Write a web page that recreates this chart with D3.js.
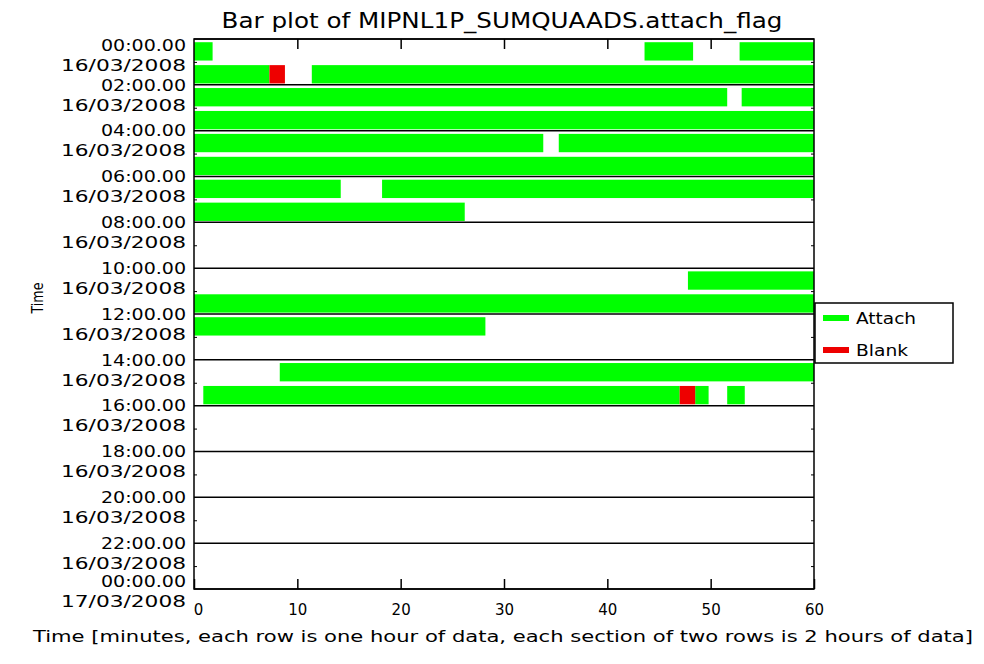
<!DOCTYPE html>
<html>
<head>
<meta charset="utf-8">
<script src="https://cdn.jsdelivr.net/npm/d3@7"></script>
<style>
  body { margin: 0; background: #fff; }
  text { font-family: "DejaVu Sans", sans-serif; fill: #000; }
</style>
</head>
<body>
<svg width="984" height="664"></svg>
<script>
// flag categories and colours
var flagNames = ["Attach", "Blank"];
var flagColors = ["#00ff00", "#ee0000"];

// one row per hour, values in minutes within that hour: [hour, start, end]
var attachSegments = [
  [0, 0, 1.8], [0, 43.6, 48.3], [0, 52.8, 60],
  [1, 0, 7.3], [1, 11.4, 60],
  [2, 0, 51.6], [2, 53.0, 60],
  [3, 0, 60],
  [4, 0, 33.8], [4, 35.3, 60],
  [5, 0, 60],
  [6, 0, 14.2], [6, 18.2, 60],
  [7, 0, 26.2],
  [10, 47.8, 60],
  [11, 0, 60],
  [12, 0, 28.2],
  [14, 8.3, 60],
  [15, 0.9, 47.0], [15, 48.5, 49.8], [15, 51.6, 53.3]
];
var blankSegments = [
  [1, 7.3, 8.8],
  [15, 47.0, 48.5]
];

// section labels (every 2 hours)
var sectionHours = [0, 2, 4, 6, 8, 10, 12, 14, 16, 18, 20, 22, 24];
var timeLabels = ["00:00.00", "02:00.00", "04:00.00", "06:00.00", "08:00.00", "10:00.00",
  "12:00.00", "14:00.00", "16:00.00", "18:00.00", "20:00.00", "22:00.00", "00:00.00"];
var dateLabels = ["16/03/2008", "16/03/2008", "16/03/2008", "16/03/2008", "16/03/2008", "16/03/2008",
  "16/03/2008", "16/03/2008", "16/03/2008", "16/03/2008", "16/03/2008", "16/03/2008", "17/03/2008"];
var minuteTicks = [0, 10, 20, 30, 40, 50, 60];

var svg = d3.select('svg');
var x = d3.scaleLinear().domain([0, 60]).range([194, 814]);
var y = d3.scaleLinear().domain([0, 24]).range([39, 589]);
var rowH = y(1) - y(0);

// title
svg.append('text')
  .attr('x', 502).attr('y', 28)
  .attr('text-anchor', 'middle')
  .attr('font-size', 21)
  .attr('textLength', 561).attr('lengthAdjust', 'spacingAndGlyphs')
  .text('Bar plot of MIPNL1P_SUMQUAADS.attach_flag');

// bars
function drawSegs(segs, color) {
  svg.append('g').selectAll('rect')
    .data(segs)
    .enter()
    .append('rect')
    .attr('x', function(d) { return x(d[1]); })
    .attr('width', function(d) { return x(d[2]) - x(d[1]); })
    .attr('y', function(d) { return y(d[0]) + rowH * 0.14; })
    .attr('height', rowH * 0.8)
    .attr('fill', color);
}
drawSegs(attachSegments, flagColors[0]);
drawSegs(blankSegments, flagColors[1]);

// section separators
svg.append('g').selectAll('line')
  .data(sectionHours)
  .enter()
  .append('line')
  .attr('x1', x(0)).attr('x2', x(60))
  .attr('y1', function(d) { return y(d); })
  .attr('y2', function(d) { return y(d); })
  .attr('stroke', '#000').attr('stroke-width', 1.5);

// frame
svg.append('rect')
  .attr('x', x(0)).attr('y', y(0))
  .attr('width', x(60) - x(0)).attr('height', y(24) - y(0))
  .attr('fill', 'none').attr('stroke', '#000').attr('stroke-width', 1.5);

// x axes (ticks point inward)
var bottomAxis = svg.append('g')
  .attr('transform', 'translate(0,' + y(24) + ')')
  .call(d3.axisBottom(x).tickValues(minuteTicks).tickSizeInner(-10).tickSizeOuter(0).tickPadding(15));
bottomAxis.select('.domain').remove();
bottomAxis.selectAll('text').attr('font-size', 15).attr('font-family', '"DejaVu Sans", sans-serif')
  .attr('dx', function(d) { return d === 0 ? 4 : 0; });
bottomAxis.selectAll('line').attr('stroke-width', 1.5);

var topAxis = svg.append('g')
  .attr('transform', 'translate(0,' + y(0) + ')')
  .call(d3.axisTop(x).tickValues(minuteTicks.slice(1, 6)).tickSizeInner(-10).tickSizeOuter(0).tickFormat(''));
topAxis.select('.domain').remove();
topAxis.selectAll('line').attr('stroke-width', 1.5);

// small ticks on odd hours
var oddHours = d3.range(1, 24, 2);
svg.append('g').attr('transform', 'translate(' + x(0) + ',0)')
  .call(d3.axisLeft(y).tickValues(oddHours).tickSizeInner(-3).tickSizeOuter(0).tickFormat(''))
  .select('.domain').remove();
svg.append('g').attr('transform', 'translate(' + x(60) + ',0)')
  .call(d3.axisRight(y).tickValues(oddHours).tickSizeInner(-3).tickSizeOuter(0).tickFormat(''))
  .select('.domain').remove();

// y labels (first and last are pushed inside)
function labelY(i) {
  var ly = y(sectionHours[i]);
  if (i === 0) return ly + 6;
  if (i === sectionHours.length - 1) return ly - 8;
  return ly;
}
var yl = svg.append('g').selectAll('g')
  .data(sectionHours)
  .enter()
  .append('g');
yl.append('text')
  .attr('x', 186)
  .attr('y', function(d, i) { return labelY(i); })
  .attr('dy', '0.36em')
  .attr('text-anchor', 'end')
  .attr('font-size', 16)
  .attr('textLength', 85).attr('lengthAdjust', 'spacingAndGlyphs')
  .text(function(d, i) { return timeLabels[i]; });
yl.append('text')
  .attr('x', 186)
  .attr('y', function(d, i) { return labelY(i) + 20; })
  .attr('dy', '0.36em')
  .attr('text-anchor', 'end')
  .attr('font-size', 16)
  .attr('textLength', 125).attr('lengthAdjust', 'spacingAndGlyphs')
  .text(function(d, i) { return dateLabels[i]; });

// axis titles
svg.append('text')
  .attr('transform', 'translate(43,298) rotate(-90)')
  .attr('text-anchor', 'middle')
  .attr('font-size', 16)
  .attr('textLength', 31).attr('lengthAdjust', 'spacingAndGlyphs')
  .text('Time');

svg.append('text')
  .attr('x', 503).attr('y', 642)
  .attr('text-anchor', 'middle')
  .attr('font-size', 16)
  .attr('textLength', 940).attr('lengthAdjust', 'spacingAndGlyphs')
  .text('Time [minutes, each row is one hour of data, each section of two rows is 2 hours of data]');

// legend
var lg = svg.append('g');
lg.append('rect')
  .attr('x', 815).attr('y', 303).attr('width', 138).attr('height', 60)
  .attr('fill', '#fff').attr('stroke', '#000').attr('stroke-width', 1.5);
var items = lg.selectAll('g.item')
  .data(flagNames)
  .enter()
  .append('g')
  .attr('class', 'item')
  .attr('transform', function(d, i) { return 'translate(0,' + (318 + i * 32) + ')'; });
items.append('rect')
  .attr('x', 823).attr('y', -3).attr('width', 26).attr('height', 6)
  .attr('fill', function(d, i) { return flagColors[i]; });
items.append('text')
  .attr('x', 856).attr('dy', '0.36em')
  .attr('font-size', 16)
  .attr('textLength', function(d) { return d === 'Attach' ? 60 : 52; })
  .attr('lengthAdjust', 'spacingAndGlyphs')
  .text(function(d) { return d; });
</script>
</body>
</html>
